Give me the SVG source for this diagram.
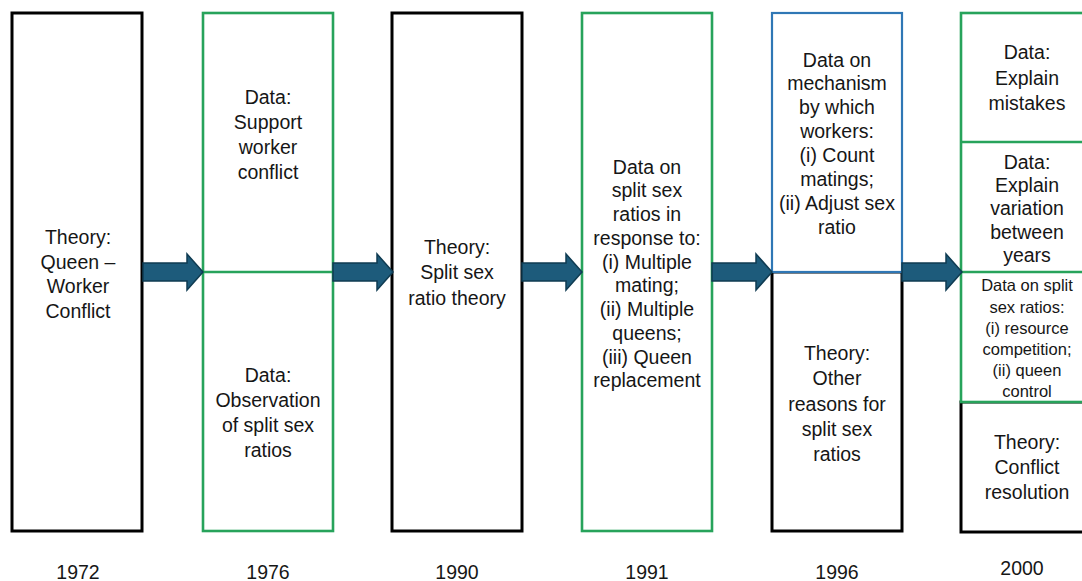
<svg xmlns="http://www.w3.org/2000/svg" width="1082" height="581" viewBox="0 0 1082 581">
<style>
text{font-family:"Liberation Sans",Arial,sans-serif;font-size:19.5px;fill:#161616;text-anchor:middle;dominant-baseline:central}
.sm{font-size:16.5px}
.yr{font-size:19.5px}
.blk{fill:#fff;stroke:#000;stroke-width:3}
.grn{fill:#fff;stroke:#27a35b;stroke-width:2.6}
.blu{fill:#fff;stroke:#2f77b5;stroke-width:2.2}
.gl{stroke:#27a35b;stroke-width:2.6}
.arr{fill:#1d5b7b;stroke:#0f3b52;stroke-width:1.5;stroke-linejoin:miter}
</style>
<defs>
<path id="arrow" d="M0,-9 H44 V-18 L60,0 L44,18 V9 H0 Z"/>
</defs>
<rect width="1082" height="581" fill="#fff"/>

<g id="n1972">
<rect class="blk" x="12" y="13" width="130" height="518"/>
<text x="78" y="237">Theory:</text>
<text x="78" y="262">Queen –</text>
<text x="78" y="286">Worker</text>
<text x="78" y="311">Conflict</text>
<text class="yr" x="78" y="572">1972</text>
</g>

<g id="n1976">
<rect class="grn" x="203" y="13" width="130" height="518"/>
<line class="gl" x1="203" y1="272" x2="333" y2="272"/>
<text x="268" y="97">Data:</text>
<text x="268" y="122">Support</text>
<text x="268" y="147">worker</text>
<text x="268" y="172">conflict</text>
<text x="268" y="375">Data:</text>
<text x="268" y="400">Observation</text>
<text x="268" y="425">of split sex</text>
<text x="268" y="450">ratios</text>
<text class="yr" x="268" y="572">1976</text>
</g>

<g id="n1990">
<rect class="blk" x="392" y="13" width="130" height="518"/>
<text x="457" y="247">Theory:</text>
<text x="457" y="272">Split sex</text>
<text x="457" y="298">ratio theory</text>
<text class="yr" x="457" y="572">1990</text>
</g>

<g id="n1991">
<rect class="grn" x="582" y="13" width="130" height="518"/>
<text x="647" y="167">Data on</text>
<text x="647" y="190">split sex</text>
<text x="647" y="214">ratios in</text>
<text x="647" y="238">response to:</text>
<text x="647" y="262">(i) Multiple</text>
<text x="647" y="285">mating;</text>
<text x="647" y="309">(ii) Multiple</text>
<text x="647" y="333">queens;</text>
<text x="647" y="357">(iii) Queen</text>
<text x="647" y="380">replacement</text>
<text class="yr" x="647" y="572">1991</text>
</g>

<g id="n1996">
<rect class="blk" x="772" y="272" width="130" height="259"/>
<rect class="blu" x="772" y="13" width="130" height="259"/>
<text x="837" y="60">Data on</text>
<text x="837" y="83">mechanism</text>
<text x="837" y="107">by which</text>
<text x="837" y="131">workers:</text>
<text x="837" y="155">(i) Count</text>
<text x="837" y="179">matings;</text>
<text x="837" y="203">(ii) Adjust sex</text>
<text x="837" y="227">ratio</text>
<text x="837" y="353">Theory:</text>
<text x="837" y="378">Other</text>
<text x="837" y="404">reasons for</text>
<text x="837" y="429">split sex</text>
<text x="837" y="454">ratios</text>
<text class="yr" x="837" y="572">1996</text>
</g>

<g id="n2000">
<rect class="blk" x="961" y="402" width="132" height="130"/>
<rect class="grn" x="961" y="13" width="132" height="389"/>
<line class="gl" x1="961" y1="142" x2="1093" y2="142"/>
<line class="gl" x1="961" y1="272" x2="1093" y2="272"/>
<text x="1027" y="52">Data:</text>
<text x="1027" y="78">Explain</text>
<text x="1027" y="103">mistakes</text>
<text x="1027" y="162">Data:</text>
<text x="1027" y="185">Explain</text>
<text x="1027" y="208">variation</text>
<text x="1027" y="232">between</text>
<text x="1027" y="255">years</text>
<text class="sm" x="1027" y="285">Data on split</text>
<text class="sm" x="1027" y="307">sex ratios:</text>
<text class="sm" x="1027" y="328">(i) resource</text>
<text class="sm" x="1027" y="349">competition;</text>
<text class="sm" x="1027" y="370">(ii) queen</text>
<text class="sm" x="1027" y="391">control</text>
<text x="1027" y="442">Theory:</text>
<text x="1027" y="467">Conflict</text>
<text x="1027" y="492">resolution</text>
<text class="yr" x="1022" y="568">2000</text>
</g>

<g id="connectors">
<use href="#arrow" class="arr" x="143" y="272"/>
<use href="#arrow" class="arr" x="333" y="272"/>
<use href="#arrow" class="arr" x="522" y="272"/>
<use href="#arrow" class="arr" x="712" y="272"/>
<use href="#arrow" class="arr" x="902" y="272"/>
</g>
</svg>
